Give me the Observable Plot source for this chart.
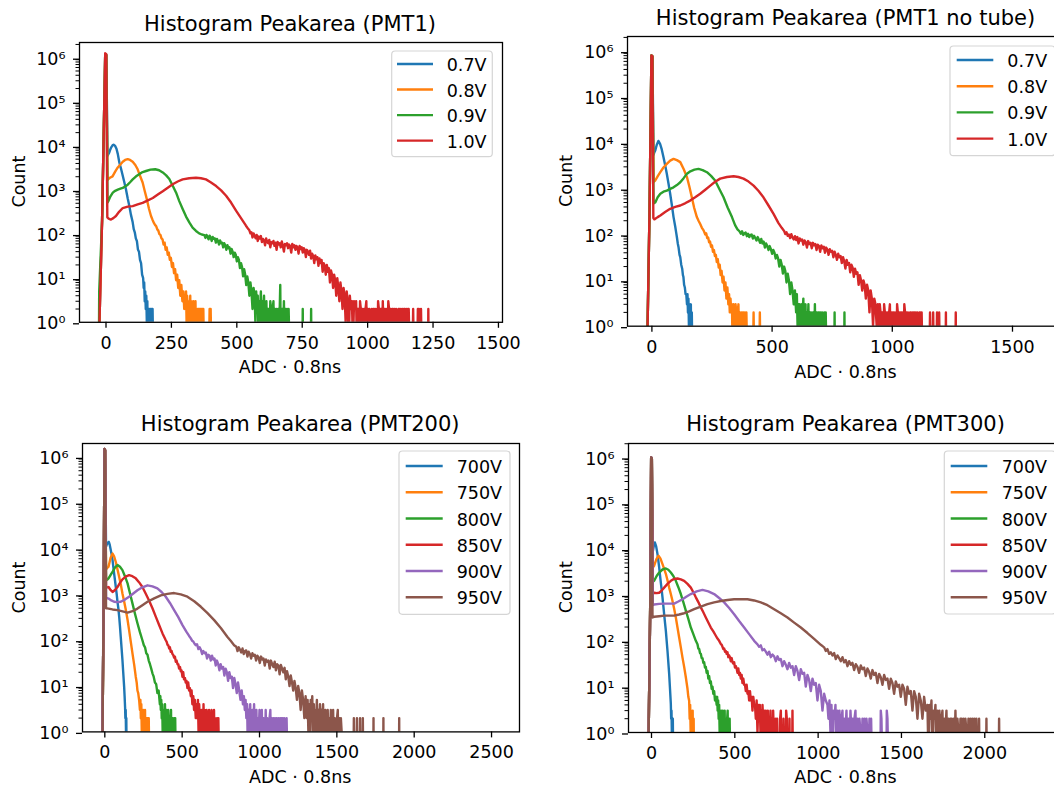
<!DOCTYPE html>
<html><head><meta charset="utf-8">
<script src="https://cdn.jsdelivr.net/npm/d3@7"></script>
<script src="https://cdn.jsdelivr.net/npm/@observablehq/plot@0.6"></script>
<style>
html,body{margin:0;padding:0;background:#fff;}
#fig{position:relative;width:1054px;height:787px;overflow:hidden;background:#fff;font-family:"DejaVu Sans",sans-serif;}
</style></head><body><div id="fig"></div>
<script>
// ---------- labels / ticks ----------
const colors = ["#1f77b4","#ff7f0e","#2ca02c","#d62728","#9467bd","#8c564b"];
const voltLabels = ["0.7V","0.8V","0.9V","1.0V"];
const hvLabels = ["700V","750V","800V","850V","900V","950V"];
const titles = ["Histogram Peakarea (PMT1)","Histogram Peakarea (PMT1 no tube)","Histogram Peakarea (PMT200)","Histogram Peakarea (PMT300)"];
const xLabel = "ADC · 0.8ns";
const yLabel = "Count";
const pmt1Ticks = [0,250,500,750,1000,1250,1500];
const ntTicks = [0,500,1000,1500];
const p200Ticks = [0,500,1000,1500,2000,2500];
const p300Ticks = [0,500,1000,1500,2000];
const yTicks = [1,10,100,1000,10000,100000,1000000];
const yTickLabels = ["10⁰","10¹","10²","10³","10⁴","10⁵","10⁶"];

// ---------- data: [ADC·0.8ns, count] ----------
const pmt1_07 = [[-27,0],[-25,1],[-15,200],[-3,1200000],[1,1150000],[6,6000],[8,6300],[12,7000],[16,8200],[20,9300],[25,10300],[29,10700],[35,10000],[40,8600],[45,6600],[51,4200],[57,3100],[64,2100],[70,1500],[76,1050],[83,640],[89,440],[95,280],[102,185],[106,130],[110,110],[114,80],[118,70],[122,45],[126,40],[130,26],[134,22],[138,12],[142,10],[144,6],[146,8],[148,3],[150,5],[152,2],[154,4],[156,1],[158,3],[160,0],[162,2],[164,2],[166,0],[168,2],[170,1],[172,2],[174,0],[176,2],[178,2],[180,0]];
const pmt1_08 = [[-27,0],[-25,1],[-15,200],[-3,1200000],[1,1150000],[6,1700],[9,1780],[15,1900],[25,2040],[35,2600],[45,3240],[55,3800],[64,4370],[73,4800],[83,5000],[92,4800],[102,4370],[112,3700],[121,2950],[130,2100],[140,1480],[148,950],[156,620],[164,380],[172,257],[178,210],[184,175],[188,160],[192,150],[196,128],[200,120],[204,100],[208,96],[212,80],[216,76],[220,58],[224,64],[228,44],[232,50],[236,34],[240,38],[244,26],[248,29],[252,18],[256,22],[260,13],[264,16],[268,9],[272,12],[276,6],[280,9],[284,4],[288,7],[292,3],[296,5],[299,2],[302,4],[304,2],[306,5],[308,1],[310,4],[312,2],[314,3],[316,0],[318,3],[320,2],[322,4],[324,0],[326,3],[328,1],[330,2],[332,0],[334,3],[336,2],[338,0],[340,2],[342,3],[344,0],[346,2],[348,1],[350,2],[352,0],[354,2],[356,2],[358,0],[360,2],[362,0],[364,2],[366,1],[368,2],[370,0],[372,2],[374,0],[394,0],[396,2],[398,0],[400,2],[402,0]];
const pmt1_09 = [[-27,0],[-26,5],[-15,200],[-3,1200000],[1,1150000],[6,520],[9,560],[17,720],[26,870],[35,960],[45,1020],[55,1070],[64,1120],[73,1200],[83,1320],[92,1500],[102,1740],[115,2050],[127,2290],[140,2550],[153,2700],[170,2900],[188,2950],[203,2800],[217,2500],[230,2150],[242,1780],[255,1250],[268,870],[280,560],[293,370],[306,250],[319,182],[331,140],[344,118],[356,104],[366,98],[376,95],[380,82],[384,96],[388,88],[392,76],[396,92],[400,84],[404,70],[408,86],[412,78],[416,80],[420,64],[424,78],[428,70],[432,58],[436,72],[440,62],[444,64],[448,50],[452,62],[456,56],[460,44],[464,56],[468,48],[472,50],[476,36],[480,46],[484,40],[488,30],[492,38],[496,34],[500,24],[504,30],[508,26],[512,17],[516,22],[520,18],[524,11],[528,16],[532,12],[536,7],[540,11],[544,8],[548,4],[552,8],[556,5],[560,2],[564,6],[568,4],[571,1],[574,5],[577,2],[580,4],[583,0],[586,3],[589,2],[592,5],[595,0],[598,3],[601,2],[604,4],[607,0],[610,2],[613,3],[616,0],[619,2],[622,2],[625,0],[628,3],[631,2],[634,0],[637,2],[640,3],[643,0],[646,2],[649,1],[652,2],[655,0],[658,2],[661,0],[664,2],[666,7],[668,0],[671,2],[674,2],[677,0],[680,3],[683,0],[686,2],[689,1],[692,2],[695,0],[698,2],[701,0],[751,0],[752,2],[753,0],[783,0],[784,2],[785,0]];
const pmt1_10 = [[-27,0],[-25,1],[-15,200],[-3,1260000],[1,1200000],[5,240],[10,225],[19,214],[28,230],[38,257],[50,320],[64,390],[83,420],[102,430],[121,470],[140,510],[160,580],[179,660],[198,790],[217,940],[236,1130],[255,1350],[274,1560],[293,1740],[318,1850],[344,1900],[363,1850],[382,1740],[400,1500],[421,1230],[440,980],[459,740],[478,520],[497,340],[516,230],[535,155],[544,130],[548,122],[552,104],[556,110],[560,84],[564,104],[568,92],[572,80],[576,96],[580,70],[584,88],[588,80],[592,90],[596,66],[600,78],[604,72],[608,56],[612,80],[616,66],[620,62],[624,74],[628,50],[632,66],[636,62],[640,70],[644,54],[648,64],[652,44],[656,66],[660,58],[664,62],[668,50],[672,68],[676,54],[680,40],[684,60],[688,56],[692,62],[696,48],[700,58],[704,52],[708,38],[712,60],[716,50],[720,56],[724,44],[728,54],[732,50],[736,36],[740,54],[744,46],[748,50],[752,38],[756,48],[760,44],[764,30],[768,44],[772,40],[776,34],[780,42],[784,28],[788,36],[792,32],[796,22],[800,33],[804,27],[808,30],[812,19],[816,28],[820,22],[824,26],[828,14],[832,22],[836,19],[840,12],[844,20],[848,14],[852,17],[856,8],[860,15],[864,12],[868,6],[872,12],[876,9],[880,4],[884,10],[888,6],[892,3],[896,8],[900,5],[904,2],[908,6],[912,4],[916,1],[920,5],[924,3],[928,0],[932,4],[936,2],[940,3],[944,0],[948,3],[952,2],[956,3],[959,0],[962,2],[965,2],[968,0],[971,3],[974,2],[977,0],[980,2],[983,1],[986,2],[989,0],[992,2],[995,3],[998,0],[1001,2],[1004,0],[1007,2],[1010,1],[1013,0],[1016,2],[1019,0],[1022,2],[1025,2],[1028,0],[1031,2],[1034,1],[1037,0],[1040,3],[1043,2],[1046,0],[1049,2],[1052,2],[1055,0],[1058,3],[1061,0],[1064,2],[1067,2],[1070,0],[1073,2],[1076,0],[1079,3],[1082,2],[1085,0],[1088,2],[1091,0],[1094,2],[1097,2],[1100,0],[1103,2],[1106,0],[1109,2],[1112,1],[1115,0],[1118,2],[1121,2],[1124,0],[1127,2],[1130,0],[1133,2],[1136,0],[1139,2],[1142,2],[1145,0],[1148,2],[1151,0],[1154,2],[1157,2],[1160,0],[1172,0],[1174,2],[1176,0],[1190,0],[1192,2],[1194,0],[1196,2],[1198,0],[1204,2],[1206,0],[1231,0],[1232,2],[1233,0]];

const nt_07 = [[-20,0],[-18,1],[-10,300],[-2,810000],[2,780000],[7,5500],[10,6200],[14,6800],[20,9000],[27,11000],[34,9500],[41,7200],[48,4900],[55,3300],[62,2130],[69,1300],[76,776],[83,440],[90,240],[97,150],[101,110],[104,87],[108,62],[111,52],[115,36],[118,32],[122,22],[126,18],[129,13],[131,12],[134,8],[137,7],[140,5],[143,5],[146,3],[148,5],[150,2],[152,4],[154,1],[156,3],[158,0],[160,2],[162,3],[164,0],[166,2],[168,0]];
const nt_08 = [[-20,0],[-18,1],[-10,300],[-2,810000],[2,780000],[7,1400],[10,1450],[14,1510],[25,1900],[35,2290],[48,2900],[62,3470],[76,4100],[90,4470],[104,4200],[118,3800],[132,2700],[146,1780],[156,1100],[166,650],[176,380],[187,240],[194,200],[201,170],[208,140],[215,123],[222,100],[226,106],[230,84],[234,86],[238,68],[242,70],[246,54],[250,58],[254,42],[258,46],[262,34],[266,36],[270,25],[274,29],[278,19],[282,22],[286,13],[290,16],[294,9],[298,12],[302,6],[306,9],[310,4],[314,7],[318,3],[321,5],[324,2],[327,4],[330,2],[333,3],[336,0],[339,3],[342,2],[345,0],[348,3],[351,2],[354,0],[357,2],[360,3],[363,0],[366,2],[369,1],[372,2],[375,0],[378,2],[381,2],[384,0],[387,2],[390,0],[393,2],[396,0],[421,0],[423,2],[425,0],[447,0],[449,2],[451,0]];
const nt_09 = [[-20,0],[-18,1],[-10,300],[-2,810000],[2,780000],[7,480],[14,500],[24,650],[35,776],[48,860],[62,910],[76,990],[90,1070],[104,1200],[118,1380],[132,1700],[146,2130],[160,2400],[177,2600],[194,2700],[211,2550],[229,2290],[246,1900],[263,1510],[280,1000],[298,650],[315,390],[333,240],[346,160],[356,130],[364,118],[370,104],[375,118],[380,98],[385,106],[390,110],[395,92],[400,104],[405,88],[410,98],[415,100],[420,82],[425,94],[430,84],[435,74],[440,88],[445,78],[450,66],[455,80],[460,64],[465,70],[470,52],[475,64],[480,56],[485,46],[490,56],[495,48],[500,38],[505,46],[510,40],[515,30],[520,36],[525,30],[530,20],[535,28],[540,22],[545,14],[550,20],[555,16],[560,9],[565,14],[570,10],[575,5],[580,9],[585,6],[590,3],[595,6],[600,2],[603,5],[606,1],[609,3],[612,0],[615,3],[618,2],[621,0],[624,3],[627,2],[630,4],[633,0],[636,2],[639,3],[642,0],[645,2],[648,1],[651,3],[654,0],[657,2],[660,2],[663,0],[666,2],[669,1],[672,2],[675,0],[678,3],[681,0],[684,2],[687,2],[690,0],[693,2],[696,2],[699,0],[702,2],[705,0],[708,2],[711,1],[714,0],[717,2],[720,0],[723,2],[726,0],[759,0],[760,2],[761,0],[800,0],[801,2],[802,0]];
const nt_10 = [[-20,0],[-18,1],[-10,300],[-2,810000],[2,780000],[6,230],[10,215],[14,220],[24,240],[35,260],[55,310],[76,365],[97,400],[118,430],[138,480],[159,550],[180,650],[201,776],[222,950],[243,1170],[263,1420],[284,1660],[312,1800],[340,1870],[360,1800],[381,1660],[402,1430],[423,1170],[443,900],[464,650],[485,430],[506,282],[526,180],[540,140],[550,120],[555,102],[560,112],[565,94],[570,100],[575,84],[580,102],[585,86],[590,78],[595,92],[600,76],[605,88],[610,64],[615,82],[620,74],[625,78],[630,60],[635,74],[640,68],[645,52],[650,72],[655,62],[660,66],[665,50],[670,66],[675,58],[680,62],[685,46],[690,60],[695,56],[700,42],[705,58],[710,50],[715,54],[720,40],[725,52],[730,47],[735,36],[740,48],[745,42],[750,44],[755,32],[760,42],[765,36],[770,28],[775,38],[780,32],[785,34],[790,24],[795,32],[800,26],[805,18],[810,28],[815,22],[820,24],[825,15],[830,22],[835,19],[840,12],[845,18],[850,14],[855,15],[860,8],[865,13],[870,10],[875,6],[880,10],[885,8],[890,4],[895,8],[900,6],[905,2],[910,6],[915,4],[920,1],[925,4],[930,3],[935,1],[940,3],[945,0],[948,3],[951,2],[954,0],[957,2],[960,2],[963,0],[966,3],[969,2],[972,0],[975,2],[978,1],[981,2],[984,0],[987,2],[990,3],[993,0],[996,2],[999,0],[1002,2],[1005,2],[1008,0],[1011,2],[1014,1],[1017,0],[1020,3],[1023,2],[1026,0],[1029,2],[1032,0],[1035,2],[1038,2],[1041,0],[1044,2],[1047,0],[1050,3],[1053,2],[1056,0],[1059,2],[1062,0],[1065,2],[1068,1],[1071,0],[1074,2],[1077,2],[1080,0],[1083,2],[1086,0],[1089,2],[1092,2],[1095,0],[1098,2],[1101,0],[1104,2],[1107,1],[1110,0],[1113,2],[1116,2],[1119,0],[1122,2],[1125,0],[1155,0],[1157,2],[1159,0],[1168,0],[1170,2],[1172,0],[1184,0],[1186,2],[1188,0],[1193,0],[1195,2],[1197,0],[1222,0],[1223,2],[1224,0],[1263,0],[1264,2],[1265,0]];

const p200_700 = [[-16,0],[-14,2],[-8,500],[-2,1500000],[2,1400000],[8,11000],[14,12500],[20,13500],[26,14000],[32,12000],[39,9100],[45,7200],[50,5600],[55,4000],[60,2880],[66,2000],[71,1450],[77,1000],[82,690],[88,480],[93,324],[98,200],[103,118],[108,70],[114,37],[119,20],[125,9.6],[128,6],[131,3.5],[133,2],[135,3],[137,1],[139,2],[141,0]];
const p200_750 = [[-16,0],[-14,2],[-8,500],[-2,1500000],[2,1400000],[8,3500],[16,3800],[24,4000],[37,6200],[50,7800],[60,6800],[71,5100],[82,3500],[93,2400],[104,1600],[114,1050],[125,700],[136,455],[147,280],[157,166],[168,92],[179,51],[190,29],[200,16],[206,12],[211,8],[216,7],[222,4.9],[227,3],[230,5],[233,2],[236,4],[239,1],[242,3],[245,0],[248,3],[251,2],[254,0],[257,2],[260,3],[263,0],[266,2],[269,1],[272,2],[275,0],[278,2],[281,0],[284,2],[287,0]];
const p200_800 = [[-16,0],[-14,2],[-8,500],[-2,1500000],[2,1400000],[8,2000],[16,2100],[24,2240],[37,2650],[50,3090],[66,3900],[82,4370],[98,4000],[114,3390],[130,2500],[147,1740],[163,1050],[179,630],[195,380],[211,234],[227,150],[243,100],[252,78],[260,70],[268,52],[276,48],[284,36],[292,30],[300,24],[308,19],[316,16],[324,12],[332,11],[340,7],[348,8],[356,4],[359,6],[362,3],[365,5],[368,2],[371,4],[374,1],[377,3],[380,0],[383,3],[386,2],[389,4],[392,0],[395,2],[398,3],[401,0],[404,2],[407,1],[410,3],[413,0],[416,2],[419,2],[422,0],[425,2],[428,3],[431,0],[434,2],[437,0],[440,2],[443,1],[446,0],[449,2],[452,0],[455,2],[458,0]];
const p200_850 = [[-16,0],[-14,2],[-8,500],[-2,1500000],[2,1400000],[8,1400],[16,1420],[24,1450],[37,1250],[50,1130],[66,1250],[82,1450],[98,1780],[114,2130],[135,2450],[157,2630],[178,2500],[200,2240],[221,1850],[243,1450],[264,1050],[286,740],[308,500],[330,324],[351,215],[373,141],[384,118],[394,100],[400,92],[405,80],[410,78],[416,66],[421,70],[426,56],[432,58],[437,50],[442,48],[448,42],[453,44],[459,34],[464,36],[470,30],[475,30],[480,24],[486,26],[491,21],[496,22],[502,16],[507,20],[512,14],[518,15],[523,12],[528,13],[534,9],[539,12],[545,8],[550,9],[556,6],[561,8],[566,4],[572,6],[577,3],[582,5],[588,2],[593,4],[598,2],[602,5],[606,1],[610,4],[614,2],[618,3],[622,0],[626,3],[630,2],[634,0],[638,4],[642,1],[646,3],[650,0],[654,2],[658,3],[662,0],[666,2],[670,1],[674,3],[678,0],[682,2],[686,0],[690,3],[694,1],[698,2],[702,0],[706,3],[710,0],[714,2],[718,1],[722,0],[726,2],[730,0],[734,2],[738,0]];
const p200_900 = [[-16,0],[-15,2],[-8,500],[-2,1500000],[2,1400000],[8,850],[16,830],[24,810],[42,740],[60,690],[82,680],[103,690],[130,770],[157,890],[184,1050],[211,1230],[243,1430],[276,1580],[308,1500],[340,1350],[367,1130],[394,890],[421,650],[448,455],[475,320],[502,214],[529,150],[545,124],[556,110],[564,98],[572,94],[580,84],[588,78],[596,82],[605,64],[613,70],[621,62],[629,50],[637,58],[645,52],[653,54],[661,40],[669,48],[677,46],[685,36],[693,46],[701,38],[709,40],[717,28],[725,36],[733,30],[741,22],[749,30],[757,24],[765,26],[773,17],[781,24],[789,20],[797,13],[805,20],[813,15],[821,16],[829,9],[837,15],[845,11],[853,7],[861,12],[869,8],[877,5],[885,8],[893,4],[899,6],[905,3],[910,5],[915,2],[920,4],[925,0],[930,3],[935,2],[940,4],[945,0],[950,2],[955,3],[960,1],[965,4],[970,0],[975,2],[980,3],[985,0],[990,2],[995,1],[1000,3],[1005,0],[1010,2],[1015,3],[1020,0],[1025,2],[1030,1],[1035,0],[1040,3],[1045,0],[1050,2],[1055,1],[1060,0],[1065,2],[1070,3],[1075,0],[1080,2],[1085,0],[1090,2],[1095,0],[1100,2],[1105,0],[1110,2],[1115,0],[1122,2],[1127,0],[1135,2],[1140,0],[1143,2],[1147,1],[1151,2],[1155,0],[1160,2],[1164,0],[1175,2],[1180,0]];
const p200_950 = [[-16,0],[-14,2],[-8,500],[-2,1500000],[2,1400000],[8,500],[16,495],[24,490],[50,470],[82,455],[115,425],[147,400],[179,430],[211,490],[243,580],[276,690],[319,820],[362,955],[405,1030],[448,1070],[491,1000],[534,890],[578,710],[621,537],[664,390],[707,275],[750,185],[793,118],[815,96],[836,78],[850,72],[858,58],[866,70],[874,62],[882,54],[890,66],[898,50],[906,58],[914,60],[922,44],[930,56],[938,50],[946,40],[954,52],[962,46],[970,48],[978,36],[986,46],[994,42],[1002,32],[1010,44],[1018,38],[1026,40],[1034,28],[1042,38],[1050,34],[1058,36],[1066,24],[1074,36],[1082,30],[1090,26],[1098,34],[1106,22],[1114,30],[1122,28],[1130,18],[1138,29],[1146,24],[1154,20],[1162,25],[1170,14],[1178,21],[1186,16],[1194,10],[1202,17],[1210,12],[1218,8],[1226,13],[1234,9],[1242,5],[1250,10],[1258,7],[1266,3],[1274,8],[1282,5],[1290,2],[1298,6],[1306,2],[1311,5],[1316,1],[1321,4],[1326,0],[1331,5],[1336,2],[1341,6],[1346,1],[1351,4],[1356,0],[1361,3],[1366,2],[1371,5],[1376,0],[1381,3],[1386,1],[1391,4],[1396,0],[1401,3],[1406,2],[1411,4],[1416,0],[1421,2],[1426,3],[1431,0],[1436,2],[1441,3],[1446,0],[1451,2],[1456,1],[1461,3],[1466,0],[1471,2],[1476,3],[1481,0],[1486,2],[1491,1],[1496,0],[1501,2],[1506,3],[1511,0],[1516,2],[1521,0],[1526,2],[1531,1],[1536,0],[1608,0],[1610,2],[1612,0],[1628,0],[1630,2],[1632,0],[1648,0],[1650,2],[1652,0],[1666,0],[1668,2],[1670,0],[1736,0],[1737,2],[1738,0],[1800,0],[1801,2],[1802,0],[1902,0],[1903,2],[1904,0]];

const p300_700 = [[-18,0],[-16,2],[-8,500],[-2,1000000],[2,950000],[8,9000],[14,12000],[20,14000],[28,11500],[36,7800],[41,5600],[46,4000],[51,2700],[56,1870],[61,1300],[66,890],[71,580],[76,380],[81,250],[86,166],[91,100],[96,60],[101,34],[106,19],[111,9],[116,4.2],[118,2],[120,3],[122,1],[124,2],[126,0],[128,2],[130,0]];
const p300_750 = [[-18,0],[-16,2],[-8,500],[-2,1000000],[2,950000],[8,4000],[16,4370],[29,6000],[42,7200],[54,6200],[66,4700],[76,3700],[86,2900],[96,2100],[106,1450],[116,1050],[126,740],[136,500],[146,324],[156,195],[166,118],[176,72],[186,43],[196,27],[206,16],[211,12],[216,9],[221,6],[226,4.9],[229,2],[232,4],[235,1],[238,3],[241,0],[244,2],[247,3],[250,0],[253,2],[255,0]];
const p300_800 = [[-18,0],[-16,2],[-8,500],[-2,1000000],[2,950000],[8,1950],[16,2040],[31,2600],[46,3090],[66,3600],[86,3800],[101,3550],[116,3090],[131,2600],[146,2040],[161,1480],[176,1050],[191,700],[206,455],[221,300],[236,195],[251,140],[266,100],[276,84],[281,68],[286,66],[291,54],[296,52],[301,42],[306,42],[311,33],[316,34],[321,26],[326,27],[331,20],[336,22],[341,15],[346,17],[351,12],[356,13],[361,9],[366,10],[371,7],[376,8],[381,5],[386,6],[391,4],[394,6],[397,3],[400,5],[403,2],[406,4],[409,1],[412,3],[415,0],[418,3],[421,2],[424,0],[427,3],[430,1],[433,2],[436,0],[439,3],[442,0],[445,2],[448,1],[451,0],[454,2],[457,3],[460,0],[463,2],[466,0],[469,2],[472,0]];
const p300_850 = [[-18,0],[-16,2],[-8,500],[-2,1000000],[2,950000],[8,1100],[16,1120],[31,1100],[46,1120],[61,1250],[76,1450],[96,1750],[116,2040],[136,2250],[156,2290],[176,2200],[196,2040],[216,1750],[236,1450],[251,1150],[266,890],[281,700],[296,537],[311,420],[326,324],[341,250],[356,195],[371,160],[386,129],[396,112],[406,100],[416,85],[421,82],[426,74],[431,66],[436,68],[441,58],[446,60],[451,52],[456,56],[461,44],[466,48],[471,44],[476,36],[481,42],[486,34],[491,32],[496,34],[501,26],[506,28],[511,25],[516,20],[521,25],[526,18],[531,20],[536,15],[541,18],[546,12],[551,15],[556,11],[561,11],[566,8],[571,11],[576,7],[581,8],[586,5],[591,8],[596,5],[601,6],[606,3],[611,6],[616,4],[621,4],[626,2],[631,5],[636,1],[641,4],[646,2],[650,4],[654,1],[658,3],[662,0],[666,4],[670,2],[674,0],[678,3],[682,1],[686,3],[690,0],[694,2],[698,3],[702,0],[706,2],[710,1],[714,3],[718,0],[722,2],[726,0],[730,3],[734,1],[738,2],[742,0],[746,2],[750,0],[754,2],[758,0],[770,0],[772,2],[776,3],[780,0],[790,0],[792,2],[796,0],[806,0],[808,3],[812,2],[816,0],[826,0],[828,2],[830,0],[844,0],[846,3],[848,0]];
const p300_900 = [[-18,0],[-16,2],[-8,400],[-2,1000000],[2,950000],[8,600],[16,620],[46,640],[76,650],[106,650],[136,650],[161,720],[186,810],[211,930],[236,1050],[271,1200],[306,1290],[341,1200],[376,1050],[406,860],[436,690],[466,520],[496,380],[526,270],[556,195],[586,140],[616,100],[636,84],[646,74],[656,80],[666,62],[676,66],[686,58],[696,50],[706,58],[716,44],[726,50],[736,46],[746,36],[756,46],[766,38],[776,40],[786,28],[796,36],[806,30],[816,24],[826,33],[836,26],[846,28],[856,18],[866,28],[876,22],[886,14],[896,24],[906,19],[916,20],[926,10],[936,18],[946,14],[956,8],[966,15],[976,11],[986,12],[996,5],[1006,11],[1016,8],[1026,3],[1036,7],[1046,5],[1056,4],[1062,2],[1068,5],[1074,1],[1080,4],[1086,0],[1092,3],[1098,2],[1104,4],[1110,0],[1116,3],[1122,1],[1128,3],[1134,0],[1140,2],[1146,3],[1152,0],[1158,2],[1164,1],[1170,3],[1176,0],[1182,2],[1188,0],[1194,3],[1200,1],[1206,2],[1212,0],[1218,2],[1224,3],[1230,0],[1236,2],[1242,0],[1248,2],[1254,1],[1260,0],[1266,2],[1272,0],[1278,2],[1284,0],[1290,2],[1296,1],[1302,0],[1308,2],[1314,0],[1318,2],[1322,0],[1374,0],[1376,3],[1380,2],[1384,0],[1410,0],[1412,3],[1416,2],[1420,0]];
const p300_950 = [[-18,0],[-16,2],[-8,400],[-2,1000000],[2,950000],[6,324],[16,335],[46,345],[76,355],[106,355],[136,355],[166,375],[196,400],[226,440],[256,490],[296,560],[336,630],[376,690],[416,740],[456,780],[496,810],[536,815],[576,810],[616,760],[656,690],[696,600],[736,490],[776,400],[816,324],[856,250],[896,195],[936,148],[976,110],[1016,82],[1036,72],[1046,60],[1056,66],[1066,52],[1076,56],[1086,48],[1096,54],[1106,40],[1116,48],[1126,42],[1136,36],[1146,44],[1156,34],[1166,38],[1176,28],[1186,36],[1196,30],[1206,33],[1216,23],[1226,31],[1236,27],[1246,20],[1256,29],[1266,24],[1276,26],[1286,17],[1296,25],[1306,21],[1316,15],[1326,23],[1336,18],[1346,20],[1356,12],[1366,19],[1376,16],[1386,11],[1396,18],[1406,14],[1416,15],[1426,9],[1436,15],[1446,12],[1456,7],[1466,13],[1476,10],[1486,11],[1496,6],[1506,11],[1516,9],[1526,4],[1536,10],[1546,7],[1556,8],[1566,3],[1576,8],[1586,6],[1596,2],[1606,7],[1616,5],[1626,2],[1636,6],[1646,3],[1656,4],[1662,0],[1668,4],[1674,2],[1680,5],[1686,0],[1692,3],[1698,2],[1704,4],[1710,0],[1716,3],[1722,1],[1728,3],[1734,0],[1740,2],[1746,3],[1752,0],[1758,2],[1764,1],[1770,3],[1776,0],[1782,2],[1788,0],[1794,2],[1800,2],[1806,0],[1812,2],[1818,0],[1824,3],[1830,0],[1836,2],[1842,1],[1848,0],[1854,2],[1860,2],[1866,0],[1872,2],[1878,0],[1884,2],[1890,1],[1896,0],[1902,2],[1908,0],[1914,2],[1920,0],[1926,2],[1932,0],[1938,2],[1944,0],[1950,2],[1956,0],[1964,0],[1966,2],[1968,0],[2008,0],[2010,2],[2012,0],[2084,0],[2086,2],[2088,0]];

// ---------- layout ----------
const FS = 17.5;
const fig = document.getElementById("fig");

function minorTicks(top) {
  const m = [];
  for (let e = 0; e <= 6; e++) for (let k = 2; k <= 9; k++) { const v = k * Math.pow(10, e); if (v <= top) m.push(v); }
  return m;
}

function panel(p) {
  const mL = 70, mR = 10, mT = 10, mB = 45;
  const W = p.R - p.L + mL + mR, H = p.B - p.T + mT + mB;
  const yTop = Math.pow(10, p.yTopExp);
  const lines = p.series.map((s, i) => Plot.line(s, {
    x: d => d[0], y: d => (d[1] > 0 ? d[1] : 0.3),
    stroke: colors[i], strokeWidth: 2.4, clip: true
  }));
  const svg = Plot.plot({
    width: W, height: H,
    marginLeft: mL, marginRight: mR, marginTop: mT, marginBottom: mB,
    style: {position: "absolute", left: (p.L - mL) + "px", top: (p.T - mT) + "px", maxWidth: "none",
            background: "none", overflow: "visible", fontFamily: "DejaVu Sans, sans-serif", fontSize: FS + "px", color: "#000"},
    x: {domain: p.xDomain},
    y: {type: "log", domain: [1, yTop]},
    marks: [
      ...lines,
      Plot.frame({stroke: "#000", strokeWidth: 1.3}),
      Plot.axisX({ticks: p.xTicks, tickSize: 6, tickPadding: 8, tickFormat: d => String(d), strokeWidth: 1.3, fontSize: FS, label: null}),
      Plot.axisY({ticks: yTicks, tickSize: 6, tickPadding: 8, tickFormat: d => yTickLabels[yTicks.indexOf(d)], strokeWidth: 1.3, fontSize: FS, dy: 1.5, label: null}),
      Plot.axisY({ticks: minorTicks(yTop), tickSize: 3.5, tickFormat: () => "", strokeWidth: 1, label: null})
    ]
  });
  fig.appendChild(svg);
}

panel({series: [pmt1_07, pmt1_08, pmt1_09, pmt1_10], L: 78.5, R: 501.5, T: 41.7, B: 321.5, xDomain: [-101.3, 1515.5], xTicks: pmt1Ticks, yTopExp: 6.345});
panel({series: [nt_07, nt_08, nt_09, nt_10], L: 627.3, R: 1063.7, T: 36, B: 325.7, xDomain: [-101.5, 1713.8], xTicks: ntTicks, yTopExp: 6.321});
panel({series: [p200_700, p200_750, p200_800, p200_850, p200_900, p200_950], L: 81.7, R: 518.7, T: 443.3, B: 731.7, xDomain: [-144.2, 2680.7], xTicks: p200Ticks, yTopExp: 6.293});
panel({series: [p300_700, p300_750, p300_800, p300_850, p300_900, p300_950], L: 627.7, R: 1063.3, T: 442.7, B: 731.7, xDomain: [-138, 2476], xTicks: p300Ticks, yTopExp: 6.306});

// ---------- overlay: titles, axis labels, legends ----------
const ov = d3.select(fig).append("svg")
  .attr("width", 1054).attr("height", 787)
  .style("position", "absolute").style("left", "0px").style("top", "0px")
  .attr("font-family", "DejaVu Sans, sans-serif");

const titlePos = [[290, 30.5], [845.5, 24.6], [300.2, 431], [845.5, 431]];
const xLabelPos = [[290, 372.8], [845.5, 378.3], [300.2, 783.3], [845.5, 783.3]];
const yLabelPos = [[25, 181.6], [571.7, 180.9], [25, 587.5], [571.7, 587.2]];
titles.forEach((t, i) => {
  ov.append("text").attr("x", titlePos[i][0]).attr("y", titlePos[i][1]).attr("text-anchor", "middle").attr("font-size", 21).attr("fill", "#000").text(t);
  ov.append("text").attr("x", xLabelPos[i][0]).attr("y", xLabelPos[i][1]).attr("text-anchor", "middle").attr("font-size", FS).attr("fill", "#000").text(xLabel);
  ov.append("text").attr("transform", `translate(${yLabelPos[i][0]},${yLabelPos[i][1]}) rotate(-90)`).attr("text-anchor", "middle").attr("font-size", FS).attr("fill", "#000").text(yLabel);
});

function legend(bx, by, bw, bh, labels, row0, step, lx0, lx1, tx) {
  ov.append("rect").attr("x", bx).attr("y", by).attr("width", bw).attr("height", bh).attr("rx", 3.5)
    .attr("fill", "rgba(255,255,255,0.8)").attr("stroke", "#d5d5d5").attr("stroke-width", 1.2);
  labels.forEach((lab, i) => {
    const y = row0 + i * step;
    ov.append("line").attr("x1", lx0).attr("x2", lx1).attr("y1", y).attr("y2", y).attr("stroke", colors[i]).attr("stroke-width", 2.4);
    ov.append("text").attr("x", tx).attr("y", y + 7).attr("font-size", FS).attr("fill", "#000").text(lab);
  });
}
legend(391.7, 51, 100.6, 105.7, voltLabels, 64, 25.55, 397, 433, 446.7);
legend(950, 46, 105, 109.7, voltLabels, 60, 26.2, 956.7, 993.3, 1007.3);
legend(399, 451, 111, 163.3, hvLabels, 466, 26.26, 405.7, 442.7, 456.7);
legend(944.3, 451, 111, 163, hvLabels, 466, 26.26, 950.7, 987.3, 1001.7);
</script>
</body></html>
